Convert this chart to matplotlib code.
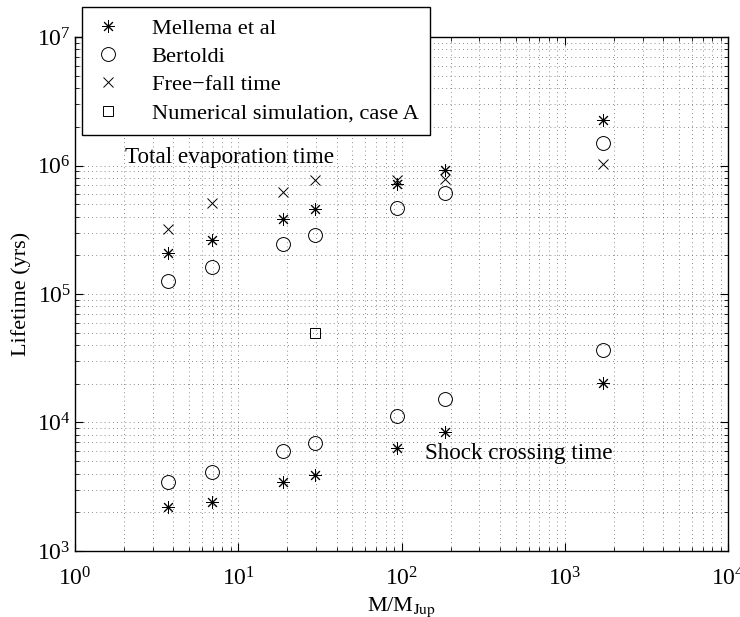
import matplotlib
matplotlib.use("Agg")
import matplotlib.pyplot as plt
from matplotlib.ticker import LogLocator, NullFormatter

plt.rcParams['font.family'] = ['Liberation Serif', 'DejaVu Serif']
plt.rcParams['mathtext.fontset'] = 'stix'

mass = [3.7, 6.9, 18.8, 29.5, 94, 185, 1720]
mellema_evap = [2.08e5, 2.63e5, 3.85e5, 4.56e5, 7.2e5, 9.3e5, 2.26e6]
bertoldi_evap = [1.27e5, 1.63e5, 2.44e5, 2.88e5, 4.64e5, 6.08e5, 1.49e6]
freefall = [3.2e5, 5.08e5, 6.18e5, 7.7e5, 7.7e5, 7.8e5, 1.02e6]
mellema_shock = [2.19e3, 2.42e3, 3.46e3, 3.9e3, 6.37e3, 8.49e3, 2.04e4]
bertoldi_shock = [3.42e3, 4.09e3, 6.04e3, 6.97e3, 1.13e4, 1.51e4, 3.66e4]
sim_mass = [29.5]
sim_time = [5.0e4]

fig = plt.figure(figsize=(7.4, 6.17), dpi=100)
ax = fig.add_axes([0.1014, 0.107, 0.8824, 0.833])

star = (8, 2, 0)
kw = dict(linestyle='none', color='black', markerfacecolor='none', markeredgewidth=0.7)
ax.plot(mass, mellema_evap, marker=star, markersize=9, label='Mellema et al', **kw)
ax.plot(mass, bertoldi_evap, marker='o', markersize=10, label='Bertoldi', **kw)
ax.plot(mass, freefall, marker='x', markersize=7, label='Free\u2212fall time', **kw)
ax.plot(sim_mass, sim_time, marker='s', markersize=7, label='Numerical simulation, case A', **kw)
ax.plot(mass, mellema_shock, marker=star, markersize=9, **kw)
ax.plot(mass, bertoldi_shock, marker='o', markersize=10, **kw)

ax.set_xscale('log')
ax.set_yscale('log')
ax.set_xlim(1, 1e4)
ax.set_ylim(1e3, 1e7)
ax.xaxis.set_major_locator(LogLocator(base=10, numticks=10))
ax.yaxis.set_major_locator(LogLocator(base=10, numticks=10))
ax.xaxis.set_minor_locator(LogLocator(base=10, subs=range(2, 10), numticks=100))
ax.yaxis.set_minor_locator(LogLocator(base=10, subs=range(2, 10), numticks=100))
ax.xaxis.set_minor_formatter(NullFormatter())
ax.yaxis.set_minor_formatter(NullFormatter())

ax.grid(True, which='both', linestyle=(0, (1, 4)), color='#666666', linewidth=0.6)
ax.tick_params(which='both', direction='in', top=True, right=True, labelsize=17)
ax.tick_params(axis='x', which='major', pad=12)
ax.tick_params(axis='y', which='major', pad=3)
ax.tick_params(which='major', length=6)
ax.tick_params(which='minor', length=3)
for s in ax.spines.values():
    s.set_linewidth(1.0)

ax.set_xlabel(r'M/M$_{\mathrm{Jup}}$', fontsize=16, labelpad=3)
ax.set_ylabel('Lifetime (yrs)', fontsize=16)

fig.text(125 / 740, 1 - 157 / 617, 'Total evaporation time', fontsize=16.7, va='center', ha='left')
fig.text(425 / 740, 1 - 453 / 617, 'Shock crossing time', fontsize=16.7, va='center', ha='left')

leg = fig.legend(loc='upper left', bbox_to_anchor=(82 / 740, 1 - 7 / 617), fontsize=16.2,
                 frameon=True, fancybox=False, edgecolor='black', framealpha=1,
                 borderaxespad=0, borderpad=0.5, labelspacing=0.33, handletextpad=1.3,
                 handlelength=1.3)
leg.get_frame().set_linewidth(1.0)

fig.savefig('out.png', dpi=100)
